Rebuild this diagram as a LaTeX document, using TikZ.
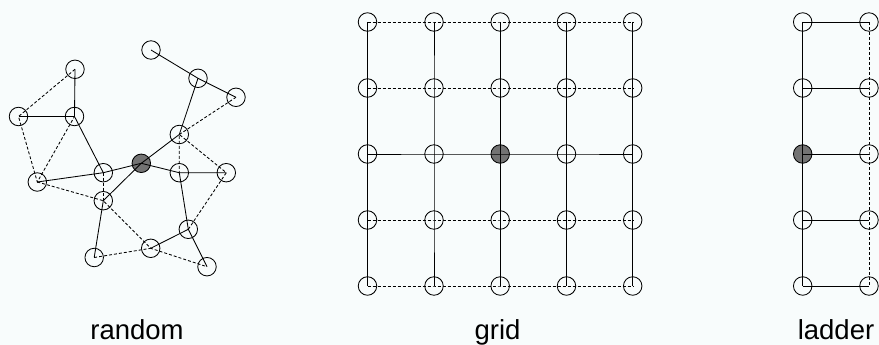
\documentclass[tikz,border=0pt]{standalone}
\usepackage{fontspec}
\setmainfont{Liberation Sans}
\definecolor{bgcol}{RGB}{248,252,252}
\tikzset{
    mynode/.style = {circle, draw=black, line width=0.85pt, minimum size=18.5pt, inner sep=0pt},
    mynodeg/.style = {circle, draw=black, line width=0.85pt, minimum size=18.5pt, inner sep=0pt, fill=black!55},
    edgen/.style = {line width=0.85pt, black},
    edged/.style = {line width=0.85pt, black, dash pattern=on 3pt off 2pt}, % dashed link
    caption/.style = {anchor=base, font=\fontsize{27.5}{33}\selectfont}
}
\begin{document}
\begin{tikzpicture}[x=1pt, y=-1pt]
\fill[bgcol] (0,0) rectangle (879,345);
\useasboundingbox (0,0) rectangle (879,345);

% random
\node[mynode] at (151,50) (r1) {};
\node[mynode] at (75,69.3) (r2) {};
\node[mynode] at (198,78.3) (r3) {};
\node[mynode] at (236,97.3) (r4) {};
\node[mynode] at (18.5,116.5) (r5) {};
\node[mynode] at (74.5,116.5) (r6) {};
\node[mynode] at (179.3,134.5) (r7) {};
\node[mynodeg] at (141.3,163.3) (r8) {};
\node[mynode] at (103.3,172.7) (r9) {};
\node[mynode] at (179.3,172.7) (r10) {};
\node[mynode] at (226.3,172.7) (r11) {};
\node[mynode] at (37.3,182) (r12) {};
\node[mynode] at (103.3,200.7) (r13) {};
\node[mynode] at (188.3,229.3) (r14) {};
\node[mynode] at (150.7,248.3) (r15) {};
\node[mynode] at (94.2,257.5) (r16) {};
\node[mynode] at (207,266.7) (r17) {};

\draw[edgen] (r1.center) -- (r3.center) -- (r4.center);
\draw[edgen] (r3.center) -- (r7.center) -- (r8.center) -- (r13.center) -- (r16.center);
\draw[edgen] (r12.center) -- (r9.center) -- (r8.center) -- (r10.center) -- (r11.center);
\draw[edgen] (r10.center) -- (r14.center) -- (r17.center);
\draw[edgen] (r14.center) -- (r15.center);
\draw[edgen] (r9.center) -- (r6.center) -- (r2.center);
\draw[edgen] (r6.center) -- (r5.center);

\draw[edged] (r2.center) -- (r5.center) -- (r12.center) -- (r6.center);
\draw[edged] (r12.center) -- (r13.center) -- (r15.center) -- (r17.center);
\draw[edged] (r9.center) -- (r13.center);
\draw[edged] (r16.center) -- (r15.center);
\draw[edged] (r14.center) -- (r11.center) -- (r7.center) -- (r10.center);
\draw[edged] (r7.center) -- (r4.center);

% grid
\node[mynode] at (367.5,22) (g11) {};
\node[mynode] at (434,22) (g21) {};
\node[mynode] at (500.2,22) (g31) {};
\node[mynode] at (566.5,22) (g41) {};
\node[mynode] at (632.7,22) (g51) {};
\node[mynode] at (367.5,88) (g12) {};
\node[mynode] at (434,88) (g22) {};
\node[mynode] at (500.2,88) (g32) {};
\node[mynode] at (566.5,88) (g42) {};
\node[mynode] at (632.7,88) (g52) {};
\node[mynode] at (367.5,154) (g13) {};
\node[mynode] at (434,154) (g23) {};
\node[mynodeg] at (500.2,154) (g33) {};
\node[mynode] at (566.5,154) (g43) {};
\node[mynode] at (632.7,154) (g53) {};
\node[mynode] at (367.5,220) (g14) {};
\node[mynode] at (434,220) (g24) {};
\node[mynode] at (500.2,220) (g34) {};
\node[mynode] at (566.5,220) (g44) {};
\node[mynode] at (632.7,220) (g54) {};
\node[mynode] at (367.5,286) (g15) {};
\node[mynode] at (434,286) (g25) {};
\node[mynode] at (500.2,286) (g35) {};
\node[mynode] at (566.5,286) (g45) {};
\node[mynode] at (632.7,286) (g55) {};

\draw[edgen] (g11.center) -- (g12.center) -- (g13.center) -- (g14.center) -- (g15.center);
\draw[edgen] (g21.center) -- (g22.center) -- (g23.center) -- (g24.center) -- (g25.center);
\draw[edgen] (g31.center) -- (g32.center) -- (g33.center) -- (g34.center) -- (g35.center);
\draw[edgen] (g41.center) -- (g42.center) -- (g43.center) -- (g44.center) -- (g45.center);
\draw[edgen] (g51.center) -- (g52.center) -- (g53.center) -- (g54.center) -- (g55.center);
\draw[edged] (g11.center) -- (g21.center) -- (g31.center) -- (g41.center) -- (g51.center);
\draw[edged] (g12.center) -- (g22.center) -- (g32.center) -- (g42.center) -- (g52.center);
\draw[edgen] (g13.center) -- (g23.center) -- (g33.center) -- (g43.center) -- (g53.center);
\draw[edged] (g14.center) -- (g24.center) -- (g34.center) -- (g44.center) -- (g54.center);
\draw[edged] (g15.center) -- (g25.center) -- (g35.center) -- (g45.center) -- (g55.center);

% ladder
\node[mynode] at (802.7,22) (la1) {};
\node[mynode] at (802.7,88) (la2) {};
\node[mynodeg] at (802.7,154) (la3) {};
\node[mynode] at (802.7,220) (la4) {};
\node[mynode] at (802.7,286) (la5) {};
\node[mynode] at (869,22) (lb1) {};
\node[mynode] at (869,88) (lb2) {};
\node[mynode] at (869,154) (lb3) {};
\node[mynode] at (869,220) (lb4) {};
\node[mynode] at (869,286) (lb5) {};

\draw[edgen] (la1.center) -- (la2.center) -- (la3.center) -- (la4.center) -- (la5.center);
\draw[edged] (lb1.center) -- (lb2.center) -- (lb3.center) -- (lb4.center) -- (lb5.center);
\draw[edgen] (la1.center) -- (lb1.center);
\draw[edgen] (la2.center) -- (lb2.center);
\draw[edgen] (la3.center) -- (lb3.center);
\draw[edgen] (la4.center) -- (lb4.center);
\draw[edgen] (la5.center) -- (lb5.center);

\node[caption] at (137,339) (trandom) {random};
\node[caption] at (497.5,339) (tgrid) {grid};
\node[caption] at (836,339) (tladder) {ladder};

\end{tikzpicture}
\end{document}
